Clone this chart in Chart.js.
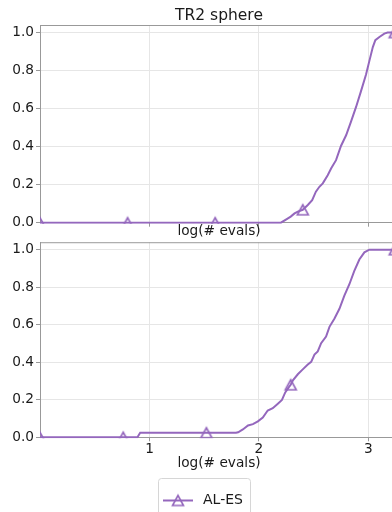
<!DOCTYPE html>
<html>
<head>
<meta charset="utf-8">
<script src="https://cdn.jsdelivr.net/npm/chart.js@4.4.0/dist/chart.umd.min.js"></script>
<style>
  html, body { margin: 0; padding: 0; background: #fff; }
  #fig { position: relative; width: 392px; height: 512px; overflow: hidden; background: #fff; }
  #fig canvas { position: absolute; left: 0; }
  #top { top: 0; }
  #bottom { top: 232px; }
</style>
</head>
<body>
<div id="fig">
  <canvas id="top" width="400" height="240"></canvas>
  <canvas id="bottom" width="400" height="288"></canvas>
</div>
<script>
// ---- data ----
const plotTitle = 'TR2 sphere';
const seriesLabel = 'AL-ES';
const xLabel = 'log(# evals)';
const xTicks = [1, 2, 3];
const yTicks = [0, 0.2, 0.4, 0.6, 0.8, 1.0];

// upper panel: fraction solved vs log10 evaluations
const topEvals = [0, 0.8, 1.6, 2.20, 2.25, 2.29, 2.325, 2.355, 2.40, 2.446, 2.486, 2.52, 2.552, 2.583,
  2.628, 2.66, 2.704, 2.75, 2.796, 2.84, 2.887, 2.93, 2.978, 3.008, 3.04, 3.063, 3.10, 3.145, 3.175, 3.24, 3.27];
const topFraction = [0, 0, 0, 0, 0.018, 0.032, 0.049, 0.058, 0.068, 0.093, 0.119, 0.163, 0.189, 0.207,
  0.25, 0.286, 0.329, 0.405, 0.46, 0.53, 0.609, 0.688, 0.78, 0.85, 0.924, 0.96, 0.977, 0.995, 1.0, 1.0, 1.0];
const topMarkerEvals = [0, 0.8, 1.6, 2.4, 3.24];

// lower panel
const bottomEvals = [0, 0.76, 0.89, 0.915, 1.52, 1.79, 1.81, 1.853, 1.9, 1.945, 1.99, 2.035, 2.08, 2.126,
  2.17, 2.21, 2.24, 2.27, 2.29, 2.31, 2.355, 2.40, 2.446, 2.477, 2.507, 2.537, 2.568, 2.613, 2.644, 2.69,
  2.735, 2.78, 2.826, 2.87, 2.917, 2.963, 3.008, 3.24, 3.27];
const bottomFraction = [0, 0, 0, 0.024, 0.024, 0.024, 0.027, 0.042, 0.063, 0.07, 0.085, 0.105, 0.143, 0.155,
  0.178, 0.199, 0.239, 0.265, 0.28, 0.304, 0.336, 0.362, 0.388, 0.402, 0.441, 0.458, 0.502, 0.537, 0.589, 0.633,
  0.685, 0.755, 0.816, 0.886, 0.948, 0.986, 1.0, 1.0, 1.0];
const bottomMarkerEvals = [0, 0.76, 1.52, 2.29, 3.24];

// ---- style ----
const FONT = "'DejaVu Sans', sans-serif";
const purple = '#9467bd';
const spineColor = '#999999';
const gridColor = '#e6e6e6';
const textColor = '#1a1a1a';
const X_MAX = 3.27;
const Y_MAX = 1.04;

// hollow up-triangle marker centred on its bounding box
function triangleSprite() {
  const c = document.createElement('canvas');
  c.width = 18; c.height = 18;
  const g = c.getContext('2d');
  g.strokeStyle = purple;
  g.lineWidth = 1.6;
  g.lineJoin = 'miter';
  g.beginPath();
  g.moveTo(9, 4);
  g.lineTo(3.5, 14);
  g.lineTo(14.5, 14);
  g.closePath();
  g.stroke();
  return c;
}
const marker = triangleSprite();

function makeDataset(xs, ys, marks) {
  return {
    label: seriesLabel,
    data: xs.map((x, i) => ({ x: x, y: ys[i] })),
    borderColor: purple,
    backgroundColor: purple,
    borderWidth: 2,
    tension: 0,
    fill: false,
    clip: { left: 0, top: 2, right: 0, bottom: 1 },
    pointStyle: marker,
    pointRadius: ctx => marks.includes(xs[ctx.dataIndex]) ? 5 : 0,
    pointHoverRadius: 0,
    pointHitRadius: 0
  };
}

function makeScales(showXTicks, xHeight) {
  const tickFont = { family: FONT, size: 13.7 };
  return {
    x: {
      type: 'linear',
      min: 0,
      max: X_MAX,
      afterBuildTicks: s => { s.ticks = xTicks.map(v => ({ value: v })); },
      afterFit: s => { s.height = xHeight; },
      ticks: { display: showXTicks, color: textColor, font: tickFont, padding: 0, callback: v => String(v) },
      grid: { color: gridColor, lineWidth: 1, drawTicks: true, tickLength: 4, tickColor: spineColor },
      border: { color: spineColor, width: 1 },
      title: { display: true, text: xLabel, color: textColor, font: tickFont, padding: { top: 0, bottom: 0 } }
    },
    y: {
      type: 'linear',
      min: 0,
      max: Y_MAX,
      afterBuildTicks: s => { s.ticks = yTicks.map(v => ({ value: v })); },
      afterFit: s => { s.width = 40; },
      ticks: { color: textColor, font: tickFont, padding: 2, callback: v => Number(v).toFixed(1) },
      grid: { color: gridColor, lineWidth: 1, drawTicks: true, tickLength: 4, tickColor: spineColor },
      border: { color: spineColor, width: 1 }
    }
  };
}

// top spine of each panel
const topSpine = {
  id: 'topSpine',
  afterDraw(chart) {
    const a = chart.chartArea, c = chart.ctx;
    c.save();
    c.strokeStyle = spineColor;
    c.lineWidth = 1;
    c.beginPath();
    c.moveTo(a.left, a.top + 0.5);
    c.lineTo(a.right, a.top + 0.5);
    c.stroke();
    c.restore();
  }
};

// panel title centred over the plotting area
const panelTitle = {
  id: 'panelTitle',
  afterDraw(chart, args, opts) {
    if (!opts.text) return;
    const a = chart.chartArea, c = chart.ctx;
    c.save();
    c.fillStyle = textColor;
    c.font = '15.5px ' + FONT;
    c.textAlign = 'center';
    c.textBaseline = 'middle';
    c.fillText(opts.text, (a.left + a.right) / 2, a.top - 9);
    c.restore();
  }
};

// framed legend entry: line with triangle marker, then the series name
const framedLegend = {
  id: 'framedLegend',
  afterDraw(chart, args, opts) {
    if (!opts.show) return;
    const c = chart.ctx;
    const ds = chart.data.datasets[0];
    const bx = 158, by = 246, bw = 92, bh = 44, r = 3;
    c.save();
    c.fillStyle = 'rgba(255,255,255,0.8)';
    c.strokeStyle = '#d6d6d6';
    c.lineWidth = 1;
    c.beginPath();
    c.roundRect(bx + 0.5, by + 0.5, bw, bh, r);
    c.fill();
    c.stroke();
    const cy = by + 22.5;
    c.strokeStyle = ds.borderColor;
    c.lineWidth = 2;
    c.beginPath();
    c.moveTo(163, cy);
    c.lineTo(193, cy);
    c.stroke();
    c.drawImage(marker, 178 - 9, cy - 9);
    c.fillStyle = textColor;
    c.font = '14px ' + FONT;
    c.textAlign = 'left';
    c.textBaseline = 'middle';
    c.fillText(ds.label, 203, cy);
    c.restore();
  }
};

const common = {
  responsive: false,
  animation: false,
  devicePixelRatio: 1,
  events: []
};

new Chart(document.getElementById('top'), {
  type: 'line',
  data: { datasets: [makeDataset(topEvals, topFraction, topMarkerEvals)] },
  options: Object.assign({}, common, {
    layout: { autoPadding: false, padding: { top: 25, right: 2, left: 0, bottom: 0 } },
    scales: makeScales(false, 17.3),
    plugins: {
      legend: { display: false },
      tooltip: { enabled: false },
      panelTitle: { text: plotTitle },
      framedLegend: { show: false }
    }
  }),
  plugins: [topSpine, panelTitle, framedLegend]
});

new Chart(document.getElementById('bottom'), {
  type: 'line',
  data: { datasets: [makeDataset(bottomEvals, bottomFraction, bottomMarkerEvals)] },
  options: Object.assign({}, common, {
    layout: { autoPadding: false, padding: { top: 7.3, right: 2, left: 0, bottom: 48.8 } },
    scales: makeScales(true, 33.9),
    plugins: {
      legend: { display: false },
      tooltip: { enabled: false },
      panelTitle: { text: '' },
      framedLegend: { show: true }
    }
  }),
  plugins: [topSpine, panelTitle, framedLegend]
});
</script>
</body>
</html>
